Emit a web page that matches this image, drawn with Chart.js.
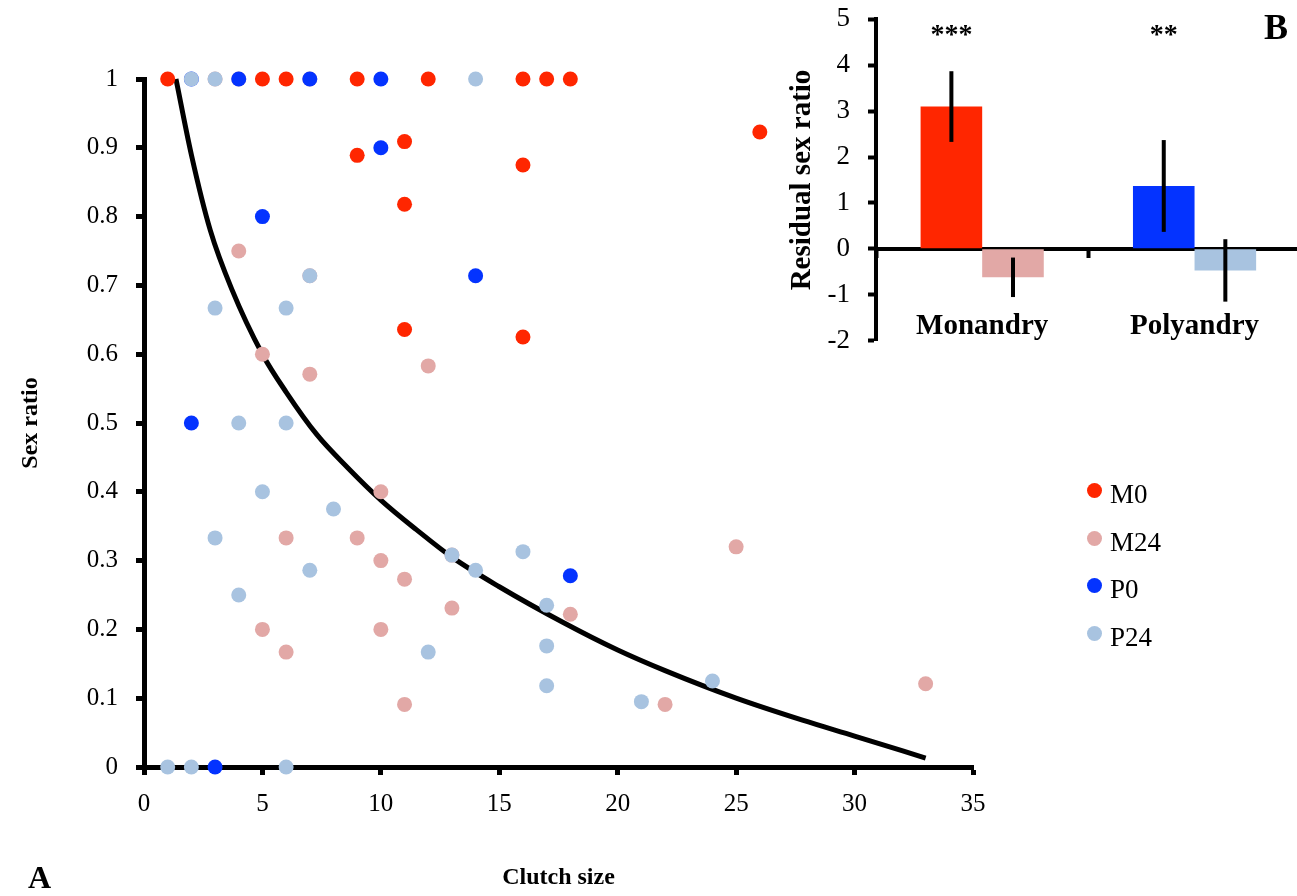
<!DOCTYPE html>
<html>
<head>
<meta charset="utf-8">
<title>Sex ratio vs clutch size</title>
<script src="https://cdn.jsdelivr.net/npm/chart.js@4"></script>
<style>
  html, body { margin: 0; padding: 0; background: #fff; overflow: hidden; }
  #wrap { position: relative; width: 1297px; height: 896px; overflow: hidden; font-family: 'Liberation Serif', 'Times New Roman', serif; }
  #scatter { position: absolute; left: 0; top: 0; }
  #bars { position: absolute; left: 780px; top: 0; }
  .panel { position: absolute; font-weight: bold; color: #000; line-height: 1; }
  #legend { position: absolute; left: 1087px; top: 471px; }
  #legend .row { display: flex; align-items: center; height: 47.5px; font-size: 27px; color: #000; }
  #legend .dot { width: 15px; height: 15px; border-radius: 50%; margin-right: 8px; margin-top: -8px; }
</style>
</head>
<body>
<div id="wrap">
  <canvas id="scatter" width="1297" height="896"></canvas>
  <canvas id="bars" width="532" height="360"></canvas>
  <div id="legend"></div>
  <div class="panel" style="left:28px; top:861px; font-size:32px;">A</div>
  <div class="panel" style="left:1264px; top:9px; font-size:36px;">B</div>
</div>
<script>
// panel A: clutch size vs sex ratio, one list pair per treatment
const m0X = [1, 5, 6, 9, 12, 16, 17, 18, 9, 11, 16, 11, 11, 16, 26];
const m0Y = [1, 1, 1, 1, 1, 1, 1, 1, 0.889, 0.909, 0.875, 0.818, 0.636, 0.625, 0.923];

const m24X = [3, 4, 7, 4, 7, 5, 7, 12, 10, 9, 6, 10, 11, 13, 13, 18, 5, 10, 6, 11, 22, 25, 33];
const m24Y = [1, 1, 1, 0.75, 0.714, 0.6, 0.571, 0.583, 0.4, 0.333, 0.333, 0.3, 0.273, 0.308, 0.231, 0.222, 0.2, 0.2, 0.167, 0.091, 0.091, 0.32, 0.121];

const p0X = [2, 4, 7, 10, 10, 5, 14, 2, 3, 18];
const p0Y = [1, 1, 1, 1, 0.9, 0.8, 0.714, 0.5, 0, 0.278];

const p24X = [2, 3, 14, 3, 6, 7, 4, 6, 5, 8, 3, 7, 4, 13, 14, 16, 17, 17, 12, 17, 21, 24, 1, 2, 6];
const p24Y = [1, 1, 1, 0.667, 0.667, 0.714, 0.5, 0.5, 0.4, 0.375, 0.333, 0.286, 0.25, 0.308, 0.286, 0.313, 0.235, 0.176, 0.167, 0.118, 0.095, 0.125, 0, 0, 0];

// fitted curve
const fitX = [1.35, 2, 2.8, 3.7, 5, 6, 7.3, 8.6, 10, 11.5, 13, 15, 17.7, 20, 22, 25, 27.8, 30, 33];
const fitY = [1.0, 0.89, 0.78, 0.695, 0.60, 0.545, 0.483, 0.435, 0.388, 0.345, 0.305, 0.262, 0.210, 0.170, 0.140, 0.100, 0.068, 0.045, 0.013];

// panel B: residual sex ratio
const groups = ['Monandry', 'Polyandry'];
const fresh = [3.1, 1.37];
const freshErr = [0.77, 1.0];
const aged = [-0.62, -0.47];
const agedErr = [0.43, 0.68];
const stars = ['***', '**'];

const RED = '#ff2600', PINK = '#e2a8a6', BLUE = '#0433ff', LIGHTBLUE = '#a8c3e0';
const SERIF = "'Liberation Serif', 'Times New Roman', serif";

Chart.defaults.font.family = SERIF;
Chart.defaults.color = '#000';

const pts = (xs, ys) => xs.map((x, i) => ({ x: x, y: ys[i] }));

const dot = (label, xs, ys, color, order) => ({
    label: label,
    data: pts(xs, ys),
    backgroundColor: color,
    borderColor: color,
    borderWidth: 0,
    pointRadius: 7.5,
    clip: false,
    order: order
});

const scatter = new Chart(document.getElementById('scatter'), {
    type: 'scatter',
    data: {
        datasets: [
            dot('M0', m0X, m0Y, RED, 3),
            dot('M24', m24X, m24Y, PINK, 2),
            dot('P0', p0X, p0Y, BLUE, 1),
            dot('P24', p24X, p24Y, LIGHTBLUE, 0),
            {
                label: 'fit',
                data: pts(fitX, fitY),
                showLine: true,
                borderColor: '#000',
                borderWidth: 5,
                pointRadius: 0,
                cubicInterpolationMode: 'monotone',
                clip: false,
                order: 5
            }
        ]
    },
    options: {
        responsive: false,
        animation: false,
        layout: { padding: { top: 79, right: 324, left: 0, bottom: 0 } },
        plugins: { legend: { display: false }, tooltip: { enabled: false } },
        scales: {
            x: {
                min: 0, max: 35,
                ticks: { stepSize: 5, font: { size: 25 }, padding: 14 },
                grid: { drawOnChartArea: false, tickColor: '#000', tickWidth: 5, tickLength: 8 },
                border: { color: '#000', width: 5 },
                title: { display: true, text: 'Clutch size', font: { size: 24, weight: 'bold' }, padding: { top: 0, bottom: 4 } },
                afterFit(s) { s.height = 129; }
            },
            y: {
                min: 0, max: 1,
                ticks: { stepSize: 0.1, font: { size: 25 }, padding: 18, callback: v => String(+v.toFixed(1)) },
                grid: { drawOnChartArea: false, tickColor: '#000', tickWidth: 5, tickLength: 8 },
                border: { color: '#000', width: 5 },
                title: { display: true, text: 'Sex ratio', font: { size: 24, weight: 'bold' }, padding: { top: 16, bottom: 0 } },
                afterFit(s) { s.width = 144; }
            }
        }
    }
});

// legend built from the scatter datasets
const legendBox = document.getElementById('legend');
scatter.data.datasets.slice(0, 4).forEach(ds => {
    const row = document.createElement('div');
    row.className = 'row';
    row.innerHTML = '<span class="dot" style="background:' + ds.backgroundColor + '"></span>' + ds.label;
    legendBox.appendChild(row);
});

const errs = [freshErr, agedErr];

const errorBars = {
    id: 'errorBars',
    afterDatasetsDraw(chart) {
        const { ctx, scales: { y } } = chart;
        ctx.save();
        ctx.strokeStyle = '#000';
        ctx.lineWidth = 4;
        chart.data.datasets.forEach((ds, i) => {
            chart.getDatasetMeta(i).data.forEach((bar, j) => {
                ctx.beginPath();
                ctx.moveTo(bar.x, y.getPixelForValue(ds.data[j] + errs[i][j]));
                ctx.lineTo(bar.x, y.getPixelForValue(ds.data[j] - errs[i][j]));
                ctx.stroke();
            });
        });
        ctx.fillStyle = '#000';
        ctx.font = 'bold 28px ' + SERIF;
        ctx.textAlign = 'center';
        ctx.textBaseline = 'middle';
        chart.getDatasetMeta(0).data.forEach((bar, j) => {
            ctx.fillText(stars[j], bar.x, y.getPixelForValue(4.65));
        });
        ctx.restore();
    }
};

new Chart(document.getElementById('bars'), {
    type: 'bar',
    data: {
        labels: groups,
        datasets: [
            { label: '0 h', data: fresh, backgroundColor: [RED, BLUE] },
            { label: '24 h', data: aged, backgroundColor: [PINK, LIGHTBLUE] }
        ]
    },
    options: {
        responsive: false,
        animation: false,
        categoryPercentage: 0.58,
        barPercentage: 1.0,
        layout: { padding: { top: 18, bottom: 18, left: 0, right: 0 } },
        plugins: { legend: { display: false }, tooltip: { enabled: false } },
        scales: {
            x: {
                position: { y: 0 },
                ticks: { font: { size: 29, weight: 'bold' }, padding: 53 },
                grid: { drawOnChartArea: false, tickColor: '#000', tickWidth: 4, tickLength: 7 },
                border: { color: '#000', width: 4 }
            },
            y: {
                min: -2, max: 5,
                ticks: { stepSize: 1, font: { size: 27, lineHeight: 0.1 }, padding: 18 },
                grid: { drawOnChartArea: false, tickColor: '#000', tickWidth: 4, tickLength: 8 },
                border: { color: '#000', width: 4 },
                title: { display: true, text: 'Residual sex ratio', font: { size: 29, weight: 'bold' }, padding: { top: 5, bottom: 0 } },
                afterFit(s) { s.width = 96; }
            }
        }
    },
    plugins: [errorBars]
});
</script>
</body>
</html>
